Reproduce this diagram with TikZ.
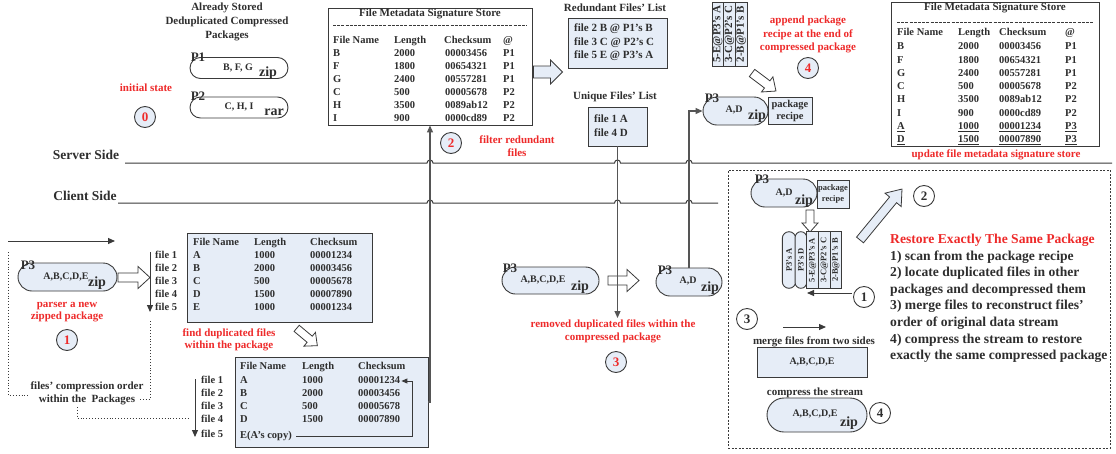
\documentclass[tikz,border=0pt]{standalone}
\usepackage{fontspec}
\setmainfont{Liberation Serif}
\usetikzlibrary{shapes.misc,arrows.meta}
\definecolor{fillb}{HTML}{E6EDF7}
\definecolor{linec}{HTML}{3A3A3A}
\definecolor{txt}{HTML}{2E2E2E}
\definecolor{redt}{HTML}{EE2A2A}
\definecolor{connc}{HTML}{555555}
\tikzset{
  bt/.style={inner sep=0, text=txt, font=\bfseries\fontsize{10.5}{12.5}\selectfont},
  tt/.style={bt, anchor=west, text height=7.5pt, text depth=2pt},
  tt11/.style={tt, font=\bfseries\fontsize{11}{12}\selectfont},
  redtxt/.style={inner sep=0, text=redt, font=\bfseries\fontsize{11}{13}\selectfont, align=center},
  pill/.style={rounded rectangle, draw=linec, line width=0.9pt, inner sep=0},
  boxx/.style={draw=linec, line width=0.9pt, inner sep=0},
  zipt/.style={inner sep=0, text=txt, font=\bfseries\fontsize{14}{14}\selectfont},
  pcont/.style={inner sep=0, text=txt, font=\bfseries\fontsize{10}{12}\selectfont},
  plab/.style={inner sep=0, text=txt, font=\bfseries\fontsize{13}{13}\selectfont},
  numc/.style={circle, draw=linec, line width=0.9pt, fill=fillb, minimum size=21pt, inner sep=0, font=\bfseries\fontsize{13}{13}\selectfont},
  connline/.style={draw=connc, line width=1.1pt},
  arr/.style={-{Triangle[length=7pt,width=6pt]}},
  dotl/.style={draw=linec, dotted, line width=0.9pt},
  harrowline/.style={draw=linec, line width=0.8pt, line join=miter},
}
% hollow block arrow: fill, cx, cy, angle, length, shaft half, head half, head length
\newcommand{\harr}[8]{%
  \begin{scope}[shift={(#2,#3)},rotate=#4]
    \pgfmathsetmacro\hArA{#5/2}%
    \pgfmathsetmacro\hArB{#5/2-#8}%
    \draw[harrowline, fill=#1] (-\hArA,-#6) -- (\hArB,-#6) -- (\hArB,-#7) -- (\hArA,0) -- (\hArB,#7) -- (\hArB,#6) -- (-\hArA,#6) -- cycle;
  \end{scope}}
\begin{document}
\begin{tikzpicture}[x=1pt,y=-1pt]
\useasboundingbox (0,0) rectangle (1116,453);
\fill[white] (0,0) rectangle (1116,453);

% ---------------- top left
\node[bt, align=center, font=\bfseries\fontsize{11}{14}\selectfont] (stored) at (227,22) {Already Stored\\Deduplicated Compressed\\Packages};
\node[pill, minimum width=98pt, minimum height=21pt] (p1) at (239,68) {};
\node[pcont] (p1c) at (238,68) {B, F, G};
\node[zipt] (p1z) at (268,73) {zip};
\node[plab] (p1l) at (198,57) {P1};
\node[pill, minimum width=98pt, minimum height=21pt] (p2) at (239,107.5) {};
\node[pcont] (p2c) at (239,107) {C, H, I};
\node[zipt] (p2z) at (274,112) {rar};
\node[plab] (p2l) at (198,96) {P2};
\node[redtxt] (init) at (146,88) {initial state};
\node[numc, text=redt] (n0) at (145,117) {0};

% ---------------- side lines
\node[bt, font=\bfseries\fontsize{13.5}{14}\selectfont] (server) at (86,155) {Server Side};
\node[bt, font=\bfseries\fontsize{13.5}{14}\selectfont] (client) at (85,196) {Client Side};
\draw[linec, line width=1pt] (125,163) -- (427,163) arc(180:360:3) -- (614.5,163) arc(180:360:3) -- (686,163) arc(180:360:3) -- (1112,163);
\draw[linec, line width=1pt] (118,203) -- (427,203) arc(180:360:3) -- (614.5,203) arc(180:360:3) -- (686,203) arc(180:360:3) -- (718,203);

% ---------------- top store
\node[boxx, minimum width=204pt, minimum height=117pt] (store1) at (430,66.5) {};
\node[bt, font=\bfseries\fontsize{11}{12}\selectfont] (s1t) at (430,14) {File Metadata Signature Store};
\draw[linec, dash pattern=on 3pt off 1.2pt, line width=0.6pt] (333,25) -- (527,25);
\node[tt] (s1h1) at (333,41) {File Name};
\node[tt] (s1h2) at (394,41) {Length};
\node[tt] (s1h3) at (444,41) {Checksum};
\node[tt] (s1h4) at (503,41) {@};
\foreach \n/\l/\c/\p [count=\i from 0] in {B/2000/00003456/P1, F/1800/00654321/P1, G/2400/00557281/P1, C/500/00005678/P2, H/3500/0089ab12/P2, I/900/0000cd89/P2}{
  \node[tt] (s1n\i) at (333,{54+13*\i}) {\n};
  \node[tt] (s1l\i) at (394,{54+13*\i}) {\l};
  \node[tt] (s1c\i) at (445,{54+13*\i}) {\c};
  \node[tt] (s1p\i) at (503,{54+13*\i}) {\p};
}
\harr{fillb}{548}{72}{0}{29}{6}{12}{12}

% ---------------- redundant / unique lists
\node[bt, font=\bfseries\fontsize{11}{12}\selectfont] (rlt) at (615,8) {Redundant Files' List};
\node[boxx, fill=fillb, minimum width=99pt, minimum height=50pt] (rl) at (617.5,43) {};
\node[tt11] (rl1) at (574,29) {file 2 B @ P1's B};
\node[tt11] (rl2) at (574,43) {file 3 C @ P2's C};
\node[tt11] (rl3) at (574,56) {file 5 E @ P3's A};
\node[bt, font=\bfseries\fontsize{11}{12}\selectfont] (ult) at (615,97) {Unique Files' List};
\node[boxx, fill=fillb, minimum width=59pt, minimum height=39pt] (ul) at (617.5,126.5) {};
\node[tt11] (ul1) at (594,120) {file 1 A};
\node[tt11] (ul2) at (594,134) {file 4 D};

% ---------------- top strips & recipe
\foreach \t [count=\i from 0] in {5-E@P3's A, 3-C@P2's C, 2-B@P1's B}{
  \node[boxx, fill=fillb, rotate=90, minimum width=64pt, minimum height=11.7pt, text=txt, font=\bfseries\fontsize{11}{11}\selectfont] (ts\i) at ({717.85+11.7*\i},34) {\t};
}
\harr{white}{764}{82}{-37}{30}{4.5}{9.5}{11}
\node[pill, fill=fillb, minimum width=65pt, minimum height=28pt] (sad) at (735.5,111) {};
\node[pcont] (sadc) at (734,110) {A,D};
\node[zipt] (sadz) at (757,116) {zip};
\node[plab] (sadl) at (712,98) {P3};
\node[boxx, fill=fillb, minimum width=44pt, minimum height=27pt, align=center, text=txt, font=\bfseries\fontsize{10.5}{12}\selectfont] (rec) at (790,110.5) {package\\recipe};
\node[redtxt, font=\bfseries\fontsize{11}{13.5}\selectfont] (append) at (808,34.5) {append package\\recipe at the end of\\compressed package};
\node[numc, text=redt] (n4) at (808,68) {4};

% ---------------- right store
\node[boxx, minimum width=208pt, minimum height=144pt] (store2) at (995,74) {};
\node[bt, font=\bfseries\fontsize{11}{12}\selectfont] (s2t) at (995,8) {File Metadata Signature Store};
\draw[linec, dash pattern=on 3pt off 1.2pt, line width=0.6pt] (897,22) -- (1093,22);
\node[tt] (s2h1) at (897,33) {File Name};
\node[tt] (s2h2) at (958,33) {Length};
\node[tt] (s2h3) at (999,33) {Checksum};
\node[tt] (s2h4) at (1065,33) {@};
\foreach \n/\l/\c/\p [count=\i from 0] in {B/2000/00003456/P1, F/1800/00654321/P1, G/2400/00557281/P1, C/500/00005678/P2, H/3500/0089ab12/P2, I/900/0000cd89/P2, \underline{A}/\underline{1000}/\underline{00001234}/\underline{P3}, \underline{D}/\underline{1500}/\underline{00007890}/\underline{P3}}{
  \node[tt] (s2n\i) at (897,{47+13.3*\i}) {\n};
  \node[tt] (s2l\i) at (958,{47+13.3*\i}) {\l};
  \node[tt] (s2c\i) at (999,{47+13.3*\i}) {\c};
  \node[tt] (s2p\i) at (1065,{47+13.3*\i}) {\p};
}
\node[redtxt] (upd) at (996,155) {update file metadata signature store};

% ---------------- client left
\coordinate (la0) at (8,241); \coordinate (la1) at (115,241);
\draw[linec, line width=1pt, arr] (la0) -- (la1);
\node[pill, fill=fillb, minimum width=99pt, minimum height=28pt] (cp3) at (67.5,277) {};
\node[pcont] (cp3c) at (66,277) {A,B,C,D,E};
\node[zipt] (cp3z) at (97,283) {zip};
\node[plab] (cp3l) at (28,265) {P3};
\harr{white}{134}{277.5}{0}{32}{4.5}{11}{12}
\coordinate (fa0) at (150,252); \coordinate (fa1) at (150,312);
\draw[linec, line width=1pt, arr] (fa0) -- (fa1);
\foreach \k [count=\i from 0] in {1,...,5}{
  \node[tt] (fl\i) at (155,{256+13*\i}) {file \k};
}
\node[redtxt, font=\bfseries\fontsize{11}{12.5}\selectfont] (parser) at (67,312) {parser a new\\zipped package};
\node[numc, text=redt] (n1) at (67,340) {1};

\coordinate (d0) at (8,252); \coordinate (d1) at (8,395); \coordinate (d2) at (28,395);
\draw[dotl] (d0) -- (d1) -- (d2);
\node[bt, align=center, font=\bfseries\fontsize{11}{13.5}\selectfont] (order) at (87,393.5) {files' compression order\\within the\ \ Packages};
\coordinate (d3) at (140,399); \coordinate (d4) at (150,399); \coordinate (d5) at (150,321);
\draw[dotl] (d3) -- (d4) -- (d5);
\coordinate (d6) at (77,407); \coordinate (d7) at (77,418); \coordinate (d8) at (190,418);
\draw[dotl] (d6) -- (d7) -- (d8);

% ---------------- table 1
\node[boxx, fill=fillb, minimum width=185pt, minimum height=89pt] (t1) at (279.5,277.5) {};
\node[tt] (t1h1) at (193,243) {File Name};
\node[tt] (t1h2) at (254,243) {Length};
\node[tt] (t1h3) at (310,243) {Checksum};
\foreach \n/\l/\c [count=\i from 0] in {A/1000/00001234, B/2000/00003456, C/500/00005678, D/1500/00007890, E/1000/00001234}{
  \node[tt] (t1n\i) at (193,{256+13*\i}) {\n};
  \node[tt] (t1l\i) at (254,{256+13*\i}) {\l};
  \node[tt] (t1c\i) at (310,{256+13*\i}) {\c};
}
\node[redtxt, font=\bfseries\fontsize{11}{12.5}\selectfont] (findd) at (229,340) {find duplicated files\\within the package};
\harr{white}{307}{337}{-40}{27}{4}{9}{10}

% ---------------- table 2
\node[boxx, fill=fillb, minimum width=193pt, minimum height=90pt] (t2) at (331.5,402) {};
\node[tt] (t2h1) at (240,367) {File Name};
\node[tt] (t2h2) at (302,367) {Length};
\node[tt] (t2h3) at (358,367) {Checksum};
\foreach \n/\l/\c [count=\i from 0] in {A/1000/00001234, B/2000/00003456, C/500/00005678, D/1500/00007890}{
  \node[tt] (t2n\i) at (240,{381+13*\i}) {\n};
  \node[tt] (t2l\i) at (302,{381+13*\i}) {\l};
  \node[tt] (t2c\i) at (358,{381+13*\i}) {\c};
}
\node[tt] (e2) at (240,436) {E(A's copy)};
\draw[linec, line width=0.9pt, -{Triangle[length=6pt,width=5pt]}] ([xshift=4pt]e2.east) -| ([xshift=12pt]t2c0.east) -- ([xshift=1pt]t2c0.east);
\coordinate (fb0) at (195,379); \coordinate (fb1) at (195,437);
\draw[linec, line width=1pt, arr] (fb0) -- (fb1);
\foreach \k [count=\i from 0] in {1,...,4}{
  \node[tt] (fm\i) at (201,{381+13*\i}) {file \k};
}
\node[tt] (fm4) at (201,435) {file 5};

\draw[connline, arr] (t2.east) -| (store1.south);
\node[numc, text=redt] (n2) at (451,143) {2};
\node[redtxt, font=\bfseries\fontsize{11}{13}\selectfont] (filter) at (517,146) {filter redundant\\files};

% ---------------- middle client
\node[pill, fill=fillb, minimum width=97pt, minimum height=27pt] (cabc) at (550.5,280.5) {};
\node[pcont] (cabcc) at (543,280) {A,B,C,D,E};
\node[zipt] (cabcz) at (580,287) {zip};
\node[plab] (cabcl) at (510,268) {P3};
\harr{white}{623.5}{280.5}{0}{31}{4.5}{11}{12}
\node[pill, fill=fillb, minimum width=66pt, minimum height=28pt] (cad) at (689,282) {};
\node[pcont] (cadc) at (688,281) {A,D};
\node[zipt] (cadz) at (710,288) {zip};
\node[plab] (cadl) at (665,270) {P3};
\coordinate (endu) at (617.5,318);
\draw[connline, arr] (ul.south) -- (endu);
\draw[connline, arr] (cad.north) |- (sad.west);
\node[redtxt, font=\bfseries\fontsize{11}{13}\selectfont] (removed) at (613,331.5) {removed duplicated files within the\\compressed package};
\node[numc, text=redt] (n3) at (616,362) {3};

% ---------------- dashed frame
\node[draw=linec, dash pattern=on 2pt off 1.5pt, line width=0.8pt, minimum width=382pt, minimum height=278pt, inner sep=0] (frame) at (919,309) {};
\node[pill, fill=fillb, minimum width=66pt, minimum height=28pt] (dad) at (784,193) {};
\node[pcont] (dadc) at (784,193) {A,D};
\node[zipt] (dadz) at (804,201) {zip};
\node[plab] (dadl) at (762,179) {P3};
\node[boxx, fill=fillb, minimum width=32pt, minimum height=28pt, align=center, text=txt, font=\bfseries\fontsize{8.5}{10.5}\selectfont] (drec) at (833,194) {package\\recipe};
\harr{white}{810}{221}{-90}{22}{4}{8}{9}
\node[pill, fill=fillb, rotate=90, minimum width=56.6pt, minimum height=13.4pt, text=txt, font=\bfseries\fontsize{8.5}{9}\selectfont] (v1) at (789,260) {P3's A};
\node[pill, fill=fillb, rotate=90, minimum width=56.6pt, minimum height=11.7pt, text=txt, font=\bfseries\fontsize{8.5}{9}\selectfont] (v2) at (800.9,260) {P3's D};
\foreach \t [count=\i from 0] in {5-E@P3's A, 3-C@P2's C, 2-B@P1's B}{
  \node[boxx, fill=fillb, rotate=90, minimum width=56.6pt, minimum height=11.7pt, text=txt, font=\bfseries\fontsize{8.5}{9}\selectfont] (ds\i) at ({812.55+11.7*\i},260) {\t};
}
\coordinate (b1a) at (852,293); \coordinate (b1b) at (807,293);
\draw[linec, line width=1pt, arr] (b1a) -- (b1b);
\node[numc, fill=white, text=txt] (m1) at (864,297) {1};
\node[numc, fill=white, text=txt] (m3) at (747,319) {3};
\coordinate (b3a) at (783,327); \coordinate (b3b) at (826,327);
\draw[linec, line width=1pt, arr] (b3a) -- (b3b);
\node[bt, font=\bfseries\fontsize{11}{12}\selectfont] (merge) at (814,342) {merge files from two sides};
\node[boxx, fill=fillb, minimum width=110pt, minimum height=30pt, text=txt, font=\bfseries\fontsize{10}{12}\selectfont] (stream) at (812,362) {A,B,C,D,E};
\node[bt, font=\bfseries\fontsize{11}{12}\selectfont] (compr) at (815,393) {compress the stream};
\node[pill, fill=fillb, minimum width=100pt, minimum height=34pt] (fin) at (817,415) {};
\node[pcont] (finc) at (815,414) {A,B,C,D,E};
\node[zipt] (finz) at (849,423) {zip};
\node[numc, fill=white, text=txt] (m4) at (880,413) {4};
\harr{fillb}{881}{214.5}{50.5}{66}{4.5}{10.5}{14}
\node[numc, fill=white, text=txt] (m2) at (924,196) {2};

\node[anchor=north west, align=left, inner sep=0, text=txt, font=\bfseries\fontsize{13.6}{16.57}\selectfont] (restore) at (890,234) {\textcolor{redt}{Restore Exactly The Same Package}\\
1) scan from the package recipe\\
2) locate duplicated files in other\\
packages and decompressed them\\
3) merge files to reconstruct files'\\
order of original data stream\\
4) compress the stream to restore\\
exactly the same compressed package};
\end{tikzpicture}
\end{document}
